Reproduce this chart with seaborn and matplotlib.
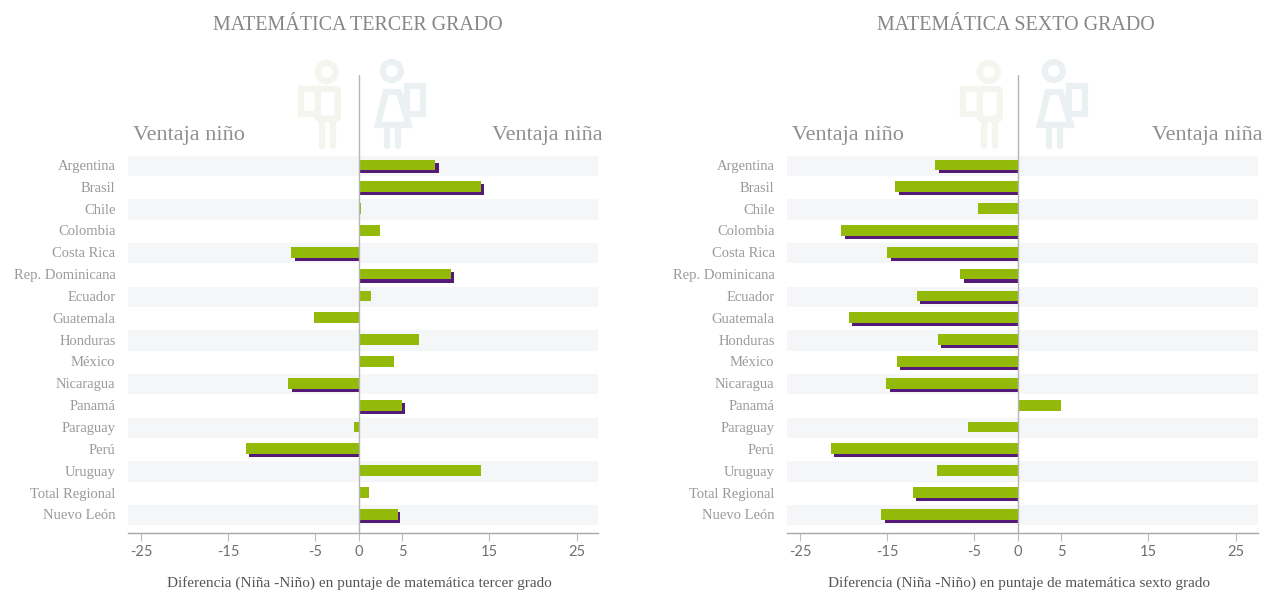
import numpy as np
import pandas as pd
import matplotlib
matplotlib.use("Agg")
import matplotlib.pyplot as plt
from matplotlib.patches import Circle, Rectangle, Polygon, FancyBboxPatch
import seaborn as sns

countries = ["Argentina", "Brasil", "Chile", "Colombia", "Costa Rica", "Rep. Dominicana",
             "Ecuador", "Guatemala", "Honduras", "México", "Nicaragua", "Panamá",
             "Paraguay", "Perú", "Uruguay", "Total Regional", "Nuevo León"]
nan = float("nan")
tercer_green = [8.8, 14.0, 0.25, 2.4, -7.8, 10.6, 1.45, -5.2, 6.9, 4.05, -8.1, 4.95, -0.5, -12.95, 14.05, 1.2, 4.45]
tercer_purple = [9.2, 14.4, nan, nan, -7.35, 10.95, nan, nan, nan, nan, -7.7, 5.3, nan, -12.6, nan, nan, 4.75]
sexto_green = [-9.55, -14.05, -4.55, -20.25, -15.0, -6.6, -11.6, -19.4, -9.15, -13.9, -15.1, 4.95, -5.75, -21.5, -9.3, -12.0, -15.7]
sexto_purple = [-9.1, -13.65, nan, -19.85, -14.55, -6.2, -11.25, -19.05, -8.8, -13.55, -14.7, nan, nan, -21.15, nan, -11.65, -15.3]
ticks = [-25, -15, -5, 0, 5, 15, 25]
titles = ["MATEMÁTICA TERCER GRADO", "MATEMÁTICA SEXTO GRADO"]
xlabels = ["Diferencia (Niña -Niño) en puntaje de matemática tercer grado",
           "Diferencia (Niña -Niño) en puntaje de matemática sexto grado"]

GREEN, PURPLE = "#93BA08", "#551A78"
BAND = "#F5F6F8"
W, H = 1264, 590
SERIF = "Liberation Serif"
sns.set_theme(style="white")
plt.rcParams["font.family"] = [SERIF, "DejaVu Serif"]

fig = plt.figure(figsize=(W / 100, H / 100), dpi=100)
bg = fig.add_axes([0, 0, 1, 1], zorder=0)
bg.set_xlim(0, W); bg.set_ylim(H, 0); bg.axis("off")


def boy(cx):
    c = "#F4F5EF"
    lw = 4.5
    bg.add_patch(Circle((cx - 32, 72), 9, fc="none", ec=c, lw=lw))
    bg.add_patch(Rectangle((cx - 58, 89), 17, 25, fc="none", ec=c, lw=lw))
    bg.add_patch(FancyBboxPatch((cx - 39, 91), 16, 26, boxstyle="round,pad=2", fc="white", ec=c, lw=lw))
    bg.plot([cx - 37, cx - 37], [118, 146], color=c, lw=lw)
    bg.plot([cx - 26, cx - 26], [118, 146], color=c, lw=lw)


def girl(cx):
    c = "#EBF0F2"
    lw = 4.5
    bg.add_patch(Circle((cx + 33, 71), 9, fc="none", ec=c, lw=lw))
    bg.add_patch(Rectangle((cx + 48, 86), 16, 28, fc="none", ec=c, lw=lw))
    bg.add_patch(Polygon([(cx + 27, 92), (cx + 40, 92), (cx + 50, 125), (cx + 19, 125)], closed=True,
                         fc="white", ec=c, lw=lw))
    bg.plot([cx + 28, cx + 28], [125, 146], color=c, lw=lw)
    bg.plot([cx + 39, cx + 39], [125, 146], color=c, lw=lw)


def panel(x0, x1, zero_px, green, purple, title, xlabel, title_x, xlabel_x, icon_dx):
    ax = fig.add_axes([x0 / W, 1 - 532.5 / H, (x1 - x0) / W, (532.5 - 154) / H], zorder=1)
    ax.patch.set_alpha(0)
    df = pd.DataFrame({"pais": countries, "verde": green, "morado": purple})
    scale = 8.71
    xlim = ((x0 - zero_px) / scale, (x1 - zero_px) / scale)
    for i in range(0, len(countries), 2):
        ax.axhspan(i - 0.43, i + 0.5, color=BAND, lw=0, zorder=0)
    sns.barplot(data=df, x="morado", y="pais", order=countries, color=PURPLE, saturation=1,
                width=0.49, ax=ax, zorder=2, orient="h", linewidth=0, edgecolor="none")
    for p in list(ax.patches):
        if p.get_facecolor()[:3] == matplotlib.colors.to_rgb(PURPLE):
            p.set_y(p.get_y() + 0.14)
    sns.barplot(data=df, x="verde", y="pais", order=countries, color=GREEN, saturation=1,
                width=0.49, ax=ax, zorder=3, orient="h", linewidth=0, edgecolor="none")
    ax.set_xlim(*xlim)
    ax.set_ylim(16.0 + 0.83, -0.5)
    ax.axvline(0, color="#B5B5B5", lw=1, zorder=4)
    ax.set_xticks(ticks)
    ax.set_xticklabels([str(t) for t in ticks], family="Lato", fontsize=10.5, color="#707070")
    ax.tick_params(axis="x", length=5.5, width=0.8, color="#BDBDBD", direction="out", pad=3.5, bottom=True)
    ax.tick_params(axis="y", length=0, pad=9, labelsize=10.5, labelcolor="#9A9A9A")
    ax.set_xlabel(""); ax.set_ylabel("")
    for s in ["top", "left", "right"]:
        ax.spines[s].set_visible(False)
    ax.spines["bottom"].set_color("#A8A8A8")
    ax.spines["bottom"].set_linewidth(1)
    bg.plot([zero_px, zero_px], [75, 154], color="#B5B5B5", lw=1)
    boy(zero_px + icon_dx); girl(zero_px + icon_dx)
    fig.text(title_x / W, 1 - 25 / H, title, ha="center", va="center", fontsize=14.4, color="#868686")
    fig.text((x0 + 5) / W, 1 - 135 / H, "Ventaja niño", ha="left", va="center", fontsize=16, color="#8F8F8F")
    fig.text((x1 + 5) / W, 1 - 135 / H, "Ventaja niña", ha="right", va="center", fontsize=16, color="#8F8F8F")
    fig.text(xlabel_x / W, 1 - 583 / H, xlabel, ha="center", va="center", fontsize=11, color="#555555")


panel(128, 598, 358.8, tercer_green, tercer_purple, titles[0], xlabels[0], 358, 359, 0)
panel(787, 1258, 1017.8, sexto_green, sexto_purple, titles[1], xlabels[1], 1016, 1019, 3)
fig.savefig("out.png", dpi=100, facecolor="white")
